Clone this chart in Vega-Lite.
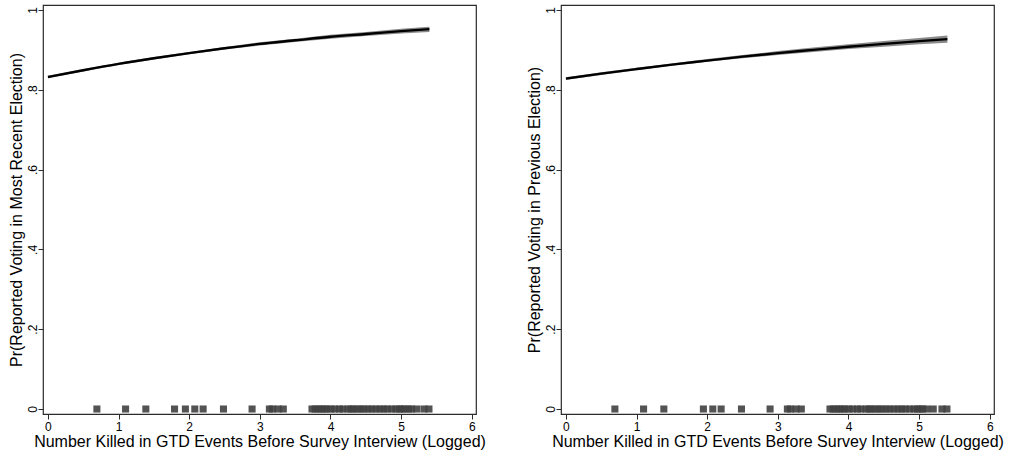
{
  "$schema": "https://vega.github.io/schema/vega-lite/v6.json",
  "padding": {"left": 7, "top": 4, "right": 5, "bottom": 0},
  "background": "white",
  "bounds": "flush",
  "spacing": 85,
  "config": {
    "font": "Liberation Sans",
    "view": {"stroke": "#2b2b2b", "strokeWidth": 1.2},
    "axis": {
      "grid": false,
      "domain": false,
      "tickColor": "#2b2b2b",
      "tickSize": 5,
      "tickWidth": 1,
      "labelFont": "Liberation Sans",
      "labelFontSize": 12,
      "labelColor": "#000",
      "titleFont": "Liberation Sans",
      "titleFontSize": 16,
      "titleFontWeight": "normal",
      "titleColor": "#000",
      "labelPadding": 2
    }
  },
  "datasets": {
    "curve": [
      {"panel": "A", "x": 0.0, "fit": 0.832, "lo": 0.829, "hi": 0.835},
      {"panel": "A", "x": 0.5, "fit": 0.849, "lo": 0.846, "hi": 0.852},
      {"panel": "A", "x": 1.0, "fit": 0.865, "lo": 0.862, "hi": 0.868},
      {"panel": "A", "x": 1.5, "fit": 0.879, "lo": 0.876, "hi": 0.882},
      {"panel": "A", "x": 2.0, "fit": 0.892, "lo": 0.889, "hi": 0.895},
      {"panel": "A", "x": 2.5, "fit": 0.904, "lo": 0.901, "hi": 0.907},
      {"panel": "A", "x": 3.0, "fit": 0.915, "lo": 0.911, "hi": 0.919},
      {"panel": "A", "x": 3.5, "fit": 0.924, "lo": 0.920, "hi": 0.928},
      {"panel": "A", "x": 4.0, "fit": 0.933, "lo": 0.928, "hi": 0.938},
      {"panel": "A", "x": 4.5, "fit": 0.940, "lo": 0.935, "hi": 0.945},
      {"panel": "A", "x": 5.0, "fit": 0.947, "lo": 0.941, "hi": 0.953},
      {"panel": "A", "x": 5.4, "fit": 0.952, "lo": 0.945, "hi": 0.958},
      {"panel": "B", "x": 0.0, "fit": 0.828, "lo": 0.825, "hi": 0.831},
      {"panel": "B", "x": 0.5, "fit": 0.8405, "lo": 0.837, "hi": 0.844},
      {"panel": "B", "x": 1.0, "fit": 0.852, "lo": 0.849, "hi": 0.855},
      {"panel": "B", "x": 1.5, "fit": 0.863, "lo": 0.860, "hi": 0.866},
      {"panel": "B", "x": 2.0, "fit": 0.873, "lo": 0.870, "hi": 0.877},
      {"panel": "B", "x": 2.5, "fit": 0.883, "lo": 0.879, "hi": 0.887},
      {"panel": "B", "x": 3.0, "fit": 0.892, "lo": 0.887, "hi": 0.897},
      {"panel": "B", "x": 3.5, "fit": 0.900, "lo": 0.895, "hi": 0.906},
      {"panel": "B", "x": 4.0, "fit": 0.908, "lo": 0.902, "hi": 0.914},
      {"panel": "B", "x": 4.5, "fit": 0.915, "lo": 0.908, "hi": 0.922},
      {"panel": "B", "x": 5.0, "fit": 0.922, "lo": 0.914, "hi": 0.930},
      {"panel": "B", "x": 5.4, "fit": 0.927, "lo": 0.918, "hi": 0.936}
    ],
    "rug": [
      {"panel": "A", "x": 0.693, "y": 0}, {"panel": "A", "x": 1.099, "y": 0}, {"panel": "A", "x": 1.386, "y": 0},
      {"panel": "A", "x": 1.792, "y": 0}, {"panel": "A", "x": 1.946, "y": 0}, {"panel": "A", "x": 2.079, "y": 0},
      {"panel": "A", "x": 2.197, "y": 0}, {"panel": "A", "x": 2.485, "y": 0}, {"panel": "A", "x": 2.890, "y": 0},
      {"panel": "A", "x": 3.135, "y": 0}, {"panel": "A", "x": 3.178, "y": 0}, {"panel": "A", "x": 3.258, "y": 0},
      {"panel": "A", "x": 3.332, "y": 0}, {"panel": "A", "x": 3.738, "y": 0}, {"panel": "A", "x": 3.784, "y": 0},
      {"panel": "A", "x": 3.829, "y": 0}, {"panel": "A", "x": 3.871, "y": 0}, {"panel": "A", "x": 3.912, "y": 0},
      {"panel": "A", "x": 3.951, "y": 0}, {"panel": "A", "x": 4.007, "y": 0}, {"panel": "A", "x": 4.060, "y": 0},
      {"panel": "A", "x": 4.127, "y": 0}, {"panel": "A", "x": 4.174, "y": 0}, {"panel": "A", "x": 4.248, "y": 0},
      {"panel": "A", "x": 4.290, "y": 0}, {"panel": "A", "x": 4.331, "y": 0}, {"panel": "A", "x": 4.382, "y": 0},
      {"panel": "A", "x": 4.431, "y": 0}, {"panel": "A", "x": 4.477, "y": 0}, {"panel": "A", "x": 4.533, "y": 0},
      {"panel": "A", "x": 4.585, "y": 0}, {"panel": "A", "x": 4.644, "y": 0}, {"panel": "A", "x": 4.700, "y": 0},
      {"panel": "A", "x": 4.754, "y": 0}, {"panel": "A", "x": 4.804, "y": 0}, {"panel": "A", "x": 4.868, "y": 0},
      {"panel": "A", "x": 4.927, "y": 0}, {"panel": "A", "x": 4.977, "y": 0}, {"panel": "A", "x": 5.011, "y": 0},
      {"panel": "A", "x": 5.050, "y": 0}, {"panel": "A", "x": 5.106, "y": 0}, {"panel": "A", "x": 5.147, "y": 0},
      {"panel": "A", "x": 5.220, "y": 0}, {"panel": "A", "x": 5.323, "y": 0}, {"panel": "A", "x": 5.394, "y": 0},
      {"panel": "B", "x": 0.693, "y": 0}, {"panel": "B", "x": 1.099, "y": 0}, {"panel": "B", "x": 1.386, "y": 0},
      {"panel": "B", "x": 1.946, "y": 0}, {"panel": "B", "x": 2.079, "y": 0},
      {"panel": "B", "x": 2.197, "y": 0}, {"panel": "B", "x": 2.485, "y": 0}, {"panel": "B", "x": 2.890, "y": 0},
      {"panel": "B", "x": 3.135, "y": 0}, {"panel": "B", "x": 3.178, "y": 0}, {"panel": "B", "x": 3.258, "y": 0},
      {"panel": "B", "x": 3.332, "y": 0}, {"panel": "B", "x": 3.738, "y": 0}, {"panel": "B", "x": 3.784, "y": 0},
      {"panel": "B", "x": 3.829, "y": 0}, {"panel": "B", "x": 3.871, "y": 0}, {"panel": "B", "x": 3.912, "y": 0},
      {"panel": "B", "x": 3.951, "y": 0}, {"panel": "B", "x": 4.007, "y": 0}, {"panel": "B", "x": 4.060, "y": 0},
      {"panel": "B", "x": 4.127, "y": 0}, {"panel": "B", "x": 4.174, "y": 0}, {"panel": "B", "x": 4.248, "y": 0},
      {"panel": "B", "x": 4.290, "y": 0}, {"panel": "B", "x": 4.331, "y": 0}, {"panel": "B", "x": 4.382, "y": 0},
      {"panel": "B", "x": 4.431, "y": 0}, {"panel": "B", "x": 4.477, "y": 0}, {"panel": "B", "x": 4.533, "y": 0},
      {"panel": "B", "x": 4.585, "y": 0}, {"panel": "B", "x": 4.644, "y": 0}, {"panel": "B", "x": 4.700, "y": 0},
      {"panel": "B", "x": 4.754, "y": 0}, {"panel": "B", "x": 4.804, "y": 0}, {"panel": "B", "x": 4.868, "y": 0},
      {"panel": "B", "x": 4.927, "y": 0}, {"panel": "B", "x": 4.977, "y": 0}, {"panel": "B", "x": 5.011, "y": 0},
      {"panel": "B", "x": 5.050, "y": 0}, {"panel": "B", "x": 5.106, "y": 0},
      {"panel": "B", "x": 5.200, "y": 0}, {"panel": "B", "x": 5.323, "y": 0}, {"panel": "B", "x": 5.394, "y": 0}
    ]
  },
  "hconcat": [
    {
      "width": 433,
      "height": 409,
      "layer": [
        {
          "data": {"name": "curve"},
          "transform": [{"filter": "datum.panel === 'A'"}],
          "mark": {"type": "area", "color": "#8a8a8a", "opacity": 1},
          "encoding": {
            "x": {"field": "x", "type": "quantitative", "scale": {"domain": [-0.07, 6.06], "nice": false, "zero": false},
              "axis": {"values": [0, 1, 2, 3, 4, 5, 6], "format": "d", "title": "Number Killed in GTD Events Before Survey Interview (Logged)", "titlePadding": 1}},
            "y": {"field": "lo", "type": "quantitative", "scale": {"domain": [-0.0125, 1.0125], "nice": false, "zero": false},
              "axis": {"values": [0, 0.2, 0.4, 0.6, 0.8, 1], "labelAngle": -90, "labelAlign": "center", "labelBaseline": "alphabetic",
                "labelExpr": "datum.value == 0 ? '0' : datum.value == 1 ? '1' : replace(format(datum.value, '.1f'), '0.', '.')",
                "title": "Pr(Reported Voting in Most Recent Election)", "titlePadding": 2}},
            "y2": {"field": "hi"}
          }
        },
        {
          "data": {"name": "curve"},
          "transform": [{"filter": "datum.panel === 'A'"}],
          "mark": {"type": "line", "color": "#000000", "strokeWidth": 2.4, "interpolate": "monotone"},
          "encoding": {
            "x": {"field": "x", "type": "quantitative"},
            "y": {"field": "fit", "type": "quantitative"}
          }
        },
        {
          "data": {"name": "rug"},
          "transform": [{"filter": "datum.panel === 'A'"}],
          "mark": {"type": "point", "shape": "square", "filled": true, "size": 50, "color": "#404040", "opacity": 0.9},
          "encoding": {
            "x": {"field": "x", "type": "quantitative"},
            "y": {"field": "y", "type": "quantitative"}
          }
        }
      ]
    },
    {
      "width": 433,
      "height": 409,
      "layer": [
        {
          "data": {"name": "curve"},
          "transform": [{"filter": "datum.panel === 'B'"}],
          "mark": {"type": "area", "color": "#8a8a8a", "opacity": 1},
          "encoding": {
            "x": {"field": "x", "type": "quantitative", "scale": {"domain": [-0.07, 6.06], "nice": false, "zero": false},
              "axis": {"values": [0, 1, 2, 3, 4, 5, 6], "format": "d", "title": "Number Killed in GTD Events Before Survey Interview (Logged)", "titlePadding": 1}},
            "y": {"field": "lo", "type": "quantitative", "scale": {"domain": [-0.0125, 1.0125], "nice": false, "zero": false},
              "axis": {"values": [0, 0.2, 0.4, 0.6, 0.8, 1], "labelAngle": -90, "labelAlign": "center", "labelBaseline": "alphabetic",
                "labelExpr": "datum.value == 0 ? '0' : datum.value == 1 ? '1' : replace(format(datum.value, '.1f'), '0.', '.')",
                "title": "Pr(Reported Voting in Previous Election)", "titlePadding": 2}},
            "y2": {"field": "hi"}
          }
        },
        {
          "data": {"name": "curve"},
          "transform": [{"filter": "datum.panel === 'B'"}],
          "mark": {"type": "line", "color": "#000000", "strokeWidth": 2.4, "interpolate": "monotone"},
          "encoding": {
            "x": {"field": "x", "type": "quantitative"},
            "y": {"field": "fit", "type": "quantitative"}
          }
        },
        {
          "data": {"name": "rug"},
          "transform": [{"filter": "datum.panel === 'B'"}],
          "mark": {"type": "point", "shape": "square", "filled": true, "size": 50, "color": "#404040", "opacity": 0.9},
          "encoding": {
            "x": {"field": "x", "type": "quantitative"},
            "y": {"field": "y", "type": "quantitative"}
          }
        }
      ]
    }
  ]
}
